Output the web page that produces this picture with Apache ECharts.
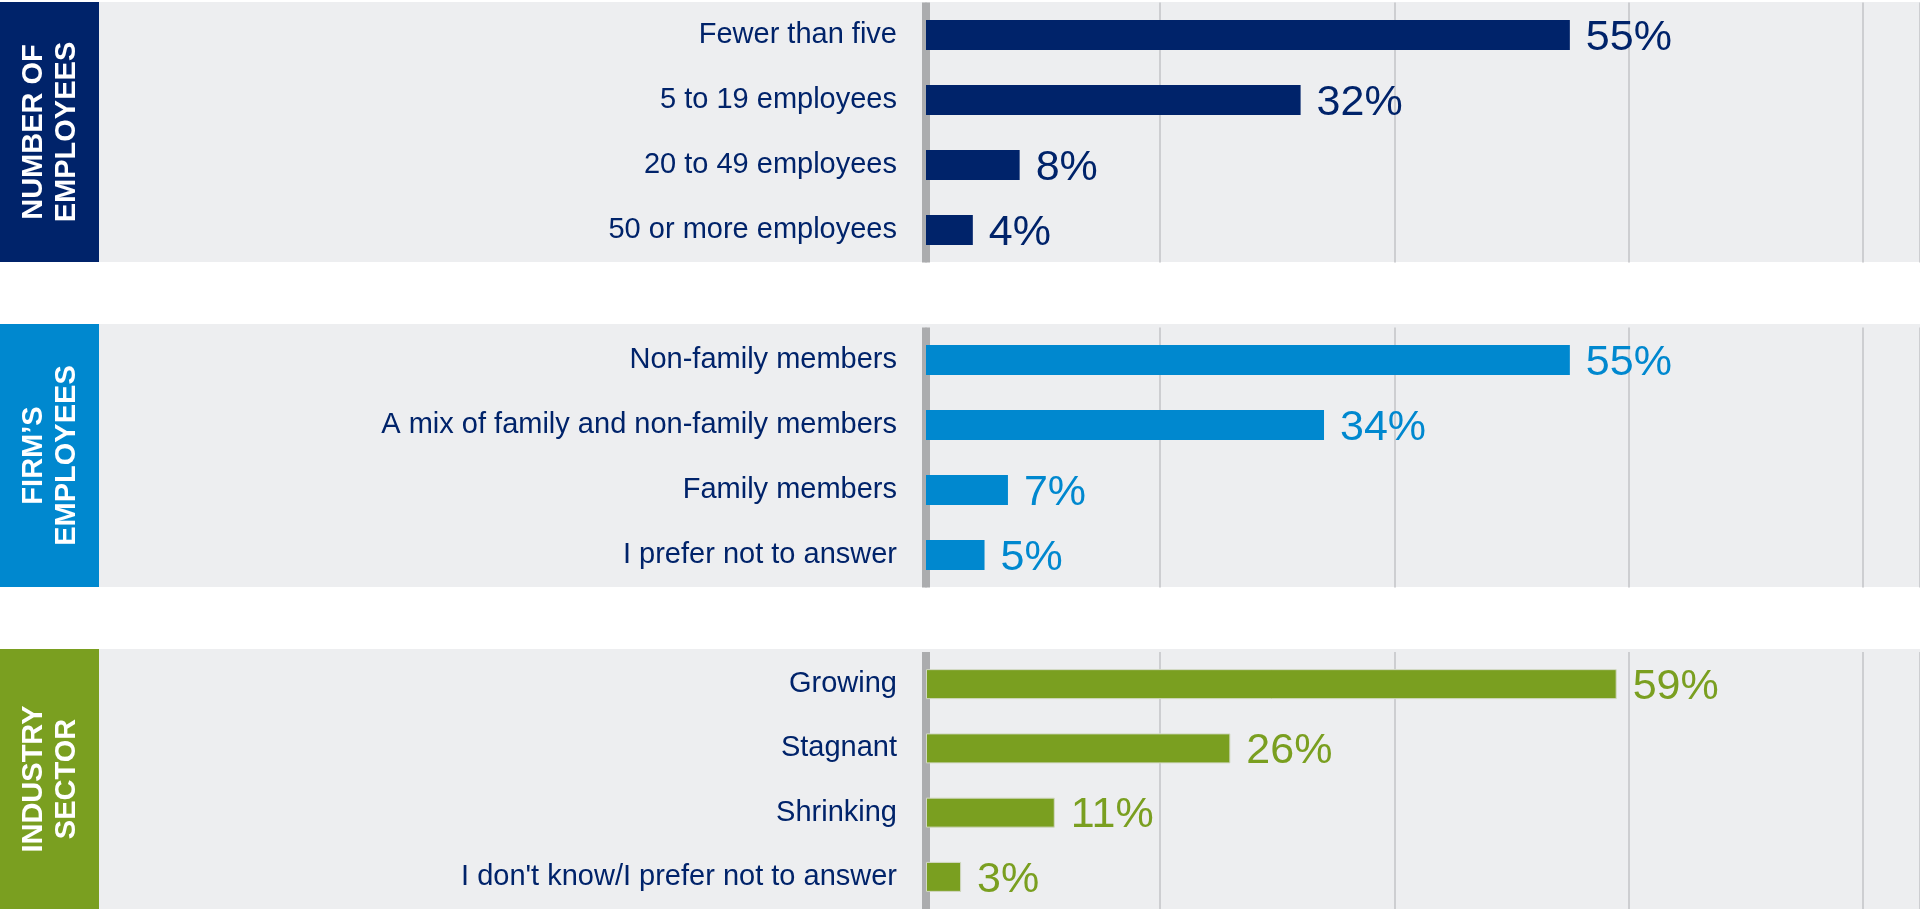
<!DOCTYPE html>
<html>
<head>
<meta charset="utf-8">
<title>Survey profile</title>
<script src="https://cdn.jsdelivr.net/npm/echarts@6/dist/echarts.min.js"></script>
<style>
  html, body { margin: 0; padding: 0; background: #fff; }
  #chart { width: 1920px; height: 909px; }
</style>
</head>
<body>
<div id="chart"></div>
<script>
// 数据
const sectionTitles = ["NUMBER OF\nEMPLOYEES", "FIRM\u2019S\nEMPLOYEES", "INDUSTRY\nSECTOR"];
const employeeCats = ["Fewer than five", "5 to 19 employees", "20 to 49 employees", "50 or more employees"];
const employeeVals = [55, 32, 8, 4];
const staffCats = ["Non-family members", "A mix of family and non-family members", "Family members", "I prefer not to answer"];
const staffVals = [55, 34, 7, 5];
const sectorCats = ["Growing", "Stagnant", "Shrinking", "I don't know/I prefer not to answer"];
const sectorVals = [59, 26, 11, 3];

const colors = ["#00236A", "#0088CF", "#7A9F20"];
const panels = [
  { bgTop: 2, bgH: 260, gridTop: 2.5 },
  { bgTop: 324, bgH: 263, gridTop: 327.5 },
  { bgTop: 649, bgH: 260, gridTop: 652 }
];
const cats = [employeeCats, staffCats, sectorCats];
const vals = [employeeVals, staffVals, sectorVals];

const FONT = '"Liberation Sans", Arial, sans-serif';
const chart = echarts.init(document.getElementById("chart"));

const grid = [], xAxis = [], yAxis = [], series = [], graphic = [];
panels.forEach((p, i) => {
  // 背景和左侧色块
  graphic.push({ type: "rect", z: -10, shape: { x: 99, y: p.bgTop, width: 1821, height: p.bgH }, style: { fill: "#EDEEF0" } });
  graphic.push({ type: "rect", z: -10, shape: { x: 0, y: p.bgTop, width: 99, height: p.bgH }, style: { fill: colors[i] } });
  // 竖排标题
  graphic.push({
    type: "text", z: 10, x: 50, y: p.bgTop + p.bgH / 2, rotation: Math.PI / 2,
    style: {
      text: sectionTitles[i], fill: "#fff", fontFamily: FONT, fontWeight: "bold", fontSize: 29,
      lineHeight: 33, align: "center", verticalAlign: "middle"
    }
  });

  grid.push({ left: 926, right: -2, top: p.gridTop, height: 260 });
  xAxis.push({
    gridIndex: i, type: "value", min: 0, max: 996 / 11.73, interval: 20,
    axisLine: { show: false }, axisTick: { show: false }, axisLabel: { show: false },
    splitLine: { show: true, lineStyle: { color: "#CDCED1", width: 2 } }
  });
  yAxis.push({
    gridIndex: i, type: "category", inverse: true, data: cats[i], offset: 4,
    axisLine: { show: true, lineStyle: { color: "#ABACAE", width: 8, cap: "butt" } },
    axisTick: { show: false },
    axisLabel: { color: "#00236A", fontFamily: FONT, fontSize: 29, margin: 25 }
  });
  series.push({
    type: "bar", xAxisIndex: i, yAxisIndex: i, data: vals[i], barWidth: 30,
    itemStyle: { color: colors[i], borderColor: i === 2 ? "#D3D9C4" : colors[i], borderWidth: i === 2 ? 1 : 0 },
    label: {
      show: true, position: "right", distance: 16, offset: [0, 3], formatter: "{c}%",
      color: colors[i], fontFamily: FONT, fontSize: 43
    },
    silent: true
  });
});

chart.setOption({
  animation: false,
  backgroundColor: "#fff",
  grid, xAxis, yAxis, series, graphic
});
</script>
</body>
</html>
